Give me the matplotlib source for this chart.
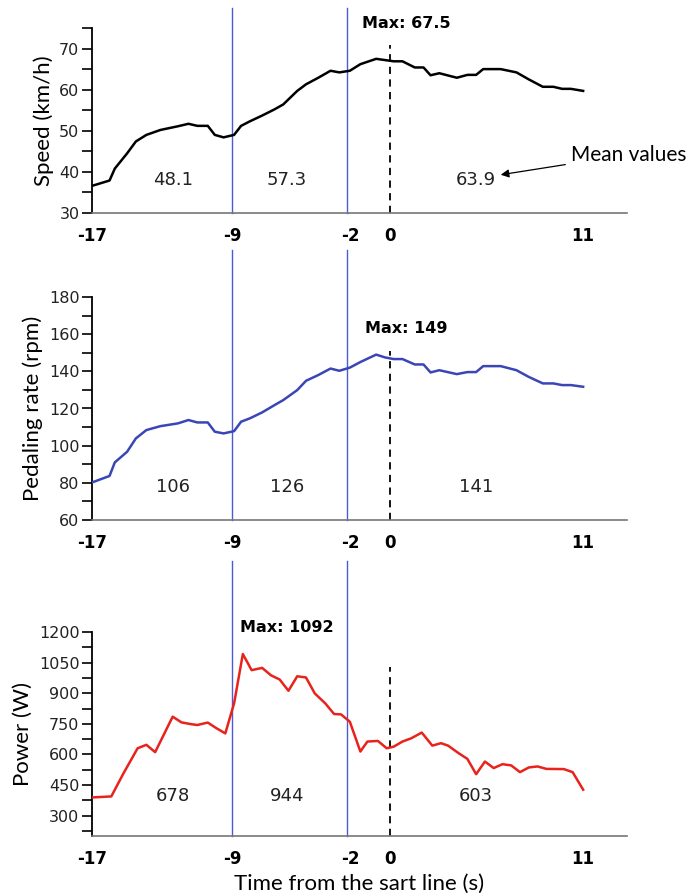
import matplotlib.pyplot as plt
from matplotlib.ticker import MultipleLocator

# time axis (s) for each series
t_speed = [-17, -16.0, -15.7, -15.0, -14.5, -13.9, -13.1, -12.1, -11.5, -11.0, -10.4, -10.0,
           -9.5, -8.9, -8.5, -8.0, -7.3, -6.6, -6.1, -5.3, -4.8, -4.1, -3.4, -2.9, -2.3,
           -1.7, -0.8, -0.3, 0.2, 0.7, 1.4, 1.9, 2.3, 2.8, 3.8, 4.4, 4.9, 5.3, 6.3, 7.2,
           7.9, 8.7, 9.3, 9.8, 10.3, 11.0]
speed = [36.6, 37.9, 40.8, 44.5, 47.4, 49.0, 50.2, 51.1, 51.7, 51.2, 51.2, 49.0,
         48.4, 49.0, 51.2, 52.3, 53.7, 55.2, 56.4, 59.7, 61.3, 62.9, 64.6, 64.2, 64.6,
         66.2, 67.5, 67.2, 66.9, 66.9, 65.4, 65.4, 63.5, 64.0, 62.9, 63.6, 63.6, 65.0, 65.0, 64.2,
         62.5, 60.7, 60.7, 60.2, 60.2, 59.7]

t_cad = t_speed
cadence = [80.2, 83.7, 91.0, 96.7, 103.9, 108.4, 110.5, 112.0, 113.8, 112.5, 112.5, 107.5,
           106.6, 107.8, 112.9, 114.7, 117.9, 121.8, 124.5, 129.9, 134.9, 138.0, 141.5, 140.3, 142.0,
           145.0, 149.0, 147.5, 146.6, 146.6, 143.7, 143.7, 139.4, 140.6, 138.5, 139.6, 139.6, 142.8, 142.8, 140.6,
           137.0, 133.5, 133.5, 132.6, 132.6, 131.7]

t_pow = [-17, -15.9, -15.2, -14.4, -13.9, -13.4, -12.4, -11.9, -11.4, -11.0, -10.4, -9.9,
         -9.4, -8.9, -8.4, -7.9, -7.3, -6.8, -6.3, -5.8, -5.3, -4.8, -4.3, -3.7, -3.2, -2.8,
         -2.3, -1.7, -1.3, -0.7, -0.2, 0.2, 0.7, 1.2, 1.8, 2.4, 2.9, 3.3, 3.9, 4.4, 4.9,
         5.4, 5.9, 6.4, 6.9, 7.4, 7.9, 8.4, 8.9, 9.9, 10.4, 11.0]
power = [389, 394, 508, 630, 647, 611, 785, 757, 749, 744, 756, 728,
         703, 850, 1092, 1013, 1024, 988, 967, 912, 983, 977, 899, 850, 798, 796,
         760, 614, 663, 666, 630, 638, 663, 679, 707, 643, 655, 643, 606, 578, 503,
         565, 533, 552, 546, 513, 536, 541, 529, 528, 513, 427]

phase_bounds = [-9, -2.45]
means_speed = ["48.1", "57.3", "63.9"]
means_cad = ["106", "126", "141"]
means_pow = ["678", "944", "603"]
mean_x = [-12.4, -5.9, 4.9]
xtick_pos = [-17, -9, -2.25, 0, 11]
xtick_lab = ["-17", "-9", "-2", "0", "11"]

W, H = 691, 896
fig = plt.figure(figsize=(W / 100, H / 100), dpi=100)


def make_axes(top, bottom):
    return fig.add_axes([92 / W, 1 - bottom / H, (627 - 92) / W, (bottom - top) / H])


panels = [
    (make_axes(28, 213), t_speed, speed, "black", (30, 75), 30, 10, 5, "Speed (km/h)",
     means_speed, 38.1, 1.11, 0.91, "Max: 67.5", 0.9, 76.2),
    (make_axes(297, 520), t_cad, cadence, "#3a46b6", (60, 180), 60, 20, 10, "Pedaling rate (rpm)",
     means_cad, 78, 1.21, 0.76, "Max: 149", 0.9, 163.3),
    (make_axes(632, 836), t_pow, power, "#e8231c", (200, 1200), 300, 150, 75, "Power (W)",
     means_pow, 395, 1.35, 0.83, "Max: 1092", -5.9, 1220),
]

for ax, t, y, col, ylim, first, major, minor, ylab, means, my, vtop, ztop, maxtxt, mx, mxy in panels:
    ax.plot(t, y, color=col, lw=1.8, zorder=3)
    ax.set_xlim(-17, 13.5)
    ax.set_ylim(*ylim)
    for b in phase_bounds:
        ax.axvline(b, ymin=0, ymax=vtop, color="#4b5bd6", lw=1.0, clip_on=False, zorder=2)
    ax.axvline(0, ymin=0, ymax=ztop, color="black", lw=1.3, ls=(0, (4, 3)), zorder=2)
    for xm, s in zip(mean_x, means):
        ax.text(xm, my, s, ha="center", va="center", fontsize=13, color="#222222")
    ax.text(mx, mxy, maxtxt, ha="center", va="center", fontsize=11.5, fontweight="bold",
            clip_on=False)
    ax.spines["top"].set_visible(False)
    ax.spines["right"].set_visible(False)
    ax.spines["bottom"].set_color("#777777")
    ax.spines["bottom"].set_linewidth(1.2)
    ax.spines["left"].set_linewidth(1.3)
    ax.yaxis.set_minor_locator(MultipleLocator(minor))
    ax.set_yticks(list(range(first, ylim[1] + 1, major)))
    ax.tick_params(axis="y", which="major", length=7, width=1.2, labelsize=11.5, pad=2,
                   labelcolor="#222222")
    ax.tick_params(axis="y", which="minor", length=7, width=1.2)
    ax.set_xticks(xtick_pos)
    ax.set_xticklabels(xtick_lab, fontweight="bold", fontsize=12)
    ax.tick_params(axis="x", length=0, pad=10)
    ax.set_ylabel(ylab, fontsize=16, family="Lato", labelpad=4)
    ax.patch.set_alpha(0)

panels[0][0].annotate("Mean values", xy=(6.3, 39.3), xytext=(10.3, 44.2), fontsize=15,
                      family="Lato", va="center", ha="left",
                      arrowprops=dict(arrowstyle="-|>", color="black", lw=0.9,
                                      mutation_scale=12, shrinkA=2, shrinkB=0),
                      annotation_clip=False)
panels[2][0].set_xlabel("Time from the sart line (s)", fontsize=16, family="Lato", labelpad=4)

fig.savefig("out.png", dpi=100)
